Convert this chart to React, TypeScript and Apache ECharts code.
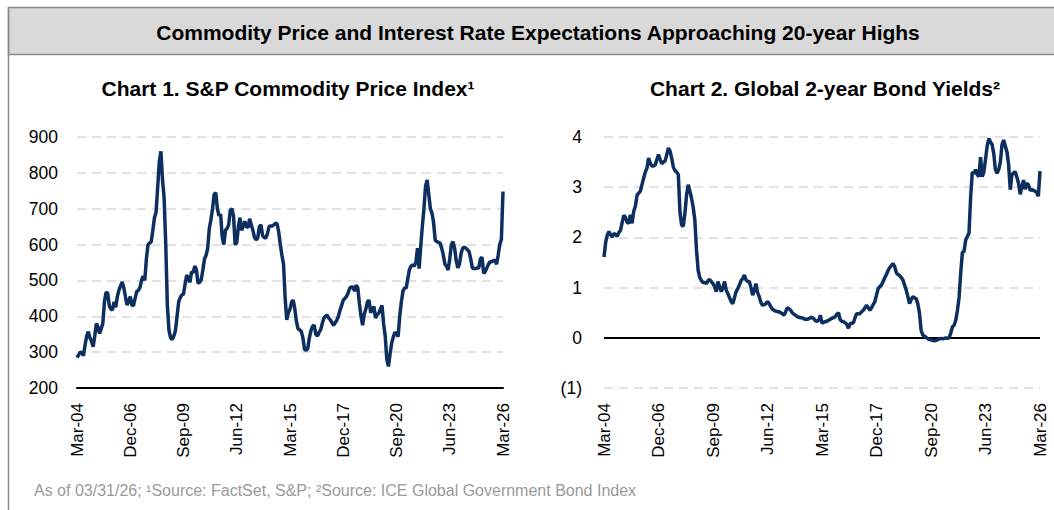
import React, { useEffect, useRef } from "react";
import * as echarts from "echarts";

// Monthly observations, Mar-04 .. Mar-26
const commodity2004 = [285, 292, 300, 298, 290, 320, 345, 357, 340, 330];
const commodity2005 = [315, 345, 380, 370, 352, 365, 380, 440, 467, 465, 430, 420];
const commodity2006 = [418, 440, 425, 455, 473, 485, 496, 480, 455, 432, 440, 455];
const commodity2007 = [432, 430, 450, 469, 472, 480, 500, 512, 500, 560, 600, 604];
const commodity2008 = [608, 640, 675, 690, 760, 830, 860, 780, 730, 600, 430, 361];
const commodity2009 = [340, 335, 345, 360, 400, 440, 452, 460, 462, 490, 515, 505];
const commodity2010 = [495, 524, 522, 540, 530, 492, 495, 502, 529, 560, 570, 590];
const commodity2011 = [645, 670, 700, 740, 745, 700, 680, 685, 620, 600, 640, 645];
const commodity2012 = [655, 695, 700, 680, 600, 605, 650, 675, 640, 650, 665, 650];
const commodity2013 = [648, 672, 655, 640, 620, 613, 618, 650, 655, 625, 620, 618];
const commodity2014 = [630, 650, 652, 652, 655, 660, 658, 635, 600, 570, 545, 450];
const commodity2015 = [390, 410, 420, 440, 445, 420, 385, 365, 362, 358, 340, 308];
const commodity2016 = [305, 310, 340, 360, 372, 375, 350, 345, 355, 362, 380, 395];
const commodity2017 = [400, 403, 395, 390, 382, 375, 382, 389, 400, 417, 430, 445];
const commodity2018 = [450, 455, 465, 478, 482, 482, 470, 487, 480, 436, 400, 375];
const commodity2019 = [405, 420, 440, 445, 410, 420, 427, 395, 405, 408, 420, 430];
const commodity2020 = [380, 345, 280, 260, 295, 325, 342, 355, 352, 343, 400, 440];
const commodity2021 = [470, 480, 478, 505, 530, 540, 543, 540, 550, 590, 533, 594];
const commodity2022 = [650, 700, 762, 780, 740, 700, 688, 660, 612, 608, 606, 604];
const commodity2023 = [590, 571, 545, 540, 529, 560, 600, 608, 590, 555, 535, 545];
const commodity2024 = [575, 590, 592, 590, 585, 580, 560, 535, 533, 533, 535, 535];
const commodity2025 = [560, 565, 520, 525, 535, 545, 552, 552, 555, 557, 545, 570];
const commodity2026 = [600, 615, 748];

const yields2004 = [1.61, 1.9, 2.05, 2.12, 2.05, 2.01, 2.08, 2.06, 2.02, 2.1];
const yields2005 = [2.14, 2.3, 2.44, 2.4, 2.3, 2.28, 2.45, 2.28, 2.52, 2.62, 2.84, 2.88];
const yields2006 = [2.92, 3.05, 3.18, 3.3, 3.38, 3.58, 3.48, 3.42, 3.42, 3.44, 3.55, 3.65];
const yields2007 = [3.55, 3.47, 3.5, 3.52, 3.65, 3.78, 3.72, 3.58, 3.4, 3.33, 3.3, 3.25];
const yields2008 = [2.5, 2.25, 2.22, 2.48, 2.85, 3.05, 2.92, 2.78, 2.6, 2.35, 1.75, 1.35];
const yields2009 = [1.2, 1.14, 1.1, 1.1, 1.08, 1.14, 1.16, 1.12, 1.08, 1.02, 0.92, 1.12];
const yields2010 = [1.02, 0.92, 1.0, 1.12, 0.95, 0.88, 0.8, 0.72, 0.68, 0.8, 0.92, 0.98];
const yields2011 = [1.05, 1.14, 1.18, 1.25, 1.15, 1.12, 1.12, 1.0, 0.85, 0.95, 1.08, 0.9];
const yields2012 = [0.82, 0.7, 0.65, 0.66, 0.68, 0.72, 0.68, 0.62, 0.57, 0.55, 0.53, 0.52];
const yields2013 = [0.52, 0.5, 0.48, 0.45, 0.52, 0.6, 0.58, 0.55, 0.5, 0.47, 0.45, 0.42];
const yields2014 = [0.41, 0.4, 0.4, 0.38, 0.37, 0.37, 0.38, 0.4, 0.41, 0.38, 0.34, 0.33];
const yields2015 = [0.35, 0.45, 0.29, 0.31, 0.32, 0.33, 0.35, 0.37, 0.39, 0.4, 0.42, 0.47];
const yields2016 = [0.5, 0.36, 0.33, 0.32, 0.3, 0.27, 0.19, 0.28, 0.29, 0.3, 0.4, 0.48];
const yields2017 = [0.48, 0.48, 0.52, 0.55, 0.6, 0.65, 0.6, 0.55, 0.6, 0.66, 0.72, 0.85];
const yields2018 = [0.98, 1.02, 1.05, 1.12, 1.2, 1.26, 1.34, 1.4, 1.44, 1.48, 1.42, 1.3];
const yields2019 = [1.26, 1.24, 1.2, 1.15, 1.05, 0.95, 0.82, 0.68, 0.76, 0.82, 0.8, 0.78];
const yields2020 = [0.68, 0.5, 0.15, 0.06, 0.03, 0.01, -0.02, -0.03, -0.04, -0.05, -0.06, -0.05];
const yields2021 = [-0.04, -0.02, -0.01, -0.02, -0.01, 0.0, -0.01, 0.0, 0.1, 0.22, 0.25, 0.35];
const yields2022 = [0.55, 0.8, 1.3, 1.7, 1.72, 1.95, 2.02, 2.08, 2.8, 3.3, 3.27, 3.35];
const yields2023 = [3.25, 3.21, 3.6, 3.21, 3.3, 3.55, 3.82, 3.97, 3.9, 3.85, 3.67, 3.35];
const yields2024 = [3.28, 3.35, 3.5, 3.85, 3.94, 3.82, 3.7, 3.45, 2.95, 3.25, 3.28, 3.31];
const yields2025 = [3.2, 3.08, 2.86, 3.0, 3.14, 2.96, 3.08, 3.05, 2.94, 2.95, 2.94, 2.92];
const yields2026 = [2.9, 2.82, 3.32];

const commodity = [
  ...commodity2004, ...commodity2005, ...commodity2006, ...commodity2007, ...commodity2008,
  ...commodity2009, ...commodity2010, ...commodity2011, ...commodity2012, ...commodity2013,
  ...commodity2014, ...commodity2015, ...commodity2016, ...commodity2017, ...commodity2018,
  ...commodity2019, ...commodity2020, ...commodity2021, ...commodity2022, ...commodity2023,
  ...commodity2024, ...commodity2025, ...commodity2026,
];
const yields = [
  ...yields2004, ...yields2005, ...yields2006, ...yields2007, ...yields2008,
  ...yields2009, ...yields2010, ...yields2011, ...yields2012, ...yields2013,
  ...yields2014, ...yields2015, ...yields2016, ...yields2017, ...yields2018,
  ...yields2019, ...yields2020, ...yields2021, ...yields2022, ...yields2023,
  ...yields2024, ...yields2025, ...yields2026,
];

const monthNames = ["Jan", "Feb", "Mar", "Apr", "May", "Jun", "Jul", "Aug", "Sep", "Oct", "Nov", "Dec"];
const startYear = 2004;
const startMonth = 2; // March
const months: string[] = [];
for (let i = 0; i < commodity.length; i++) {
  const m = (startMonth + i) % 12;
  const y = startYear + Math.floor((startMonth + i) / 12);
  months.push(`${monthNames[m]}-${String(y % 100).padStart(2, "0")}`);
}

const headerTitle = "Commodity Price and Interest Rate Expectations Approaching 20-year Highs";
const chart1Title = "Chart 1. S&P Commodity Price Index\u00B9";
const chart2Title = "Chart 2. Global 2-year Bond Yields\u00B2";
const footnote = "As of 03/31/26; \u00B9Source: FactSet, S&P; \u00B2Source: ICE Global Government Bond Index";

const FONT = "Arial, 'Liberation Sans', sans-serif";
const NAVY = "#0d2f5f";

export default function App() {
  const ref = useRef<HTMLDivElement>(null);
  useEffect(() => {
    if (!ref.current) return;
    const chart = echarts.init(ref.current, null, { renderer: "svg" });
    const xAxisBase = {
      type: "category" as const,
      data: months,
      boundaryGap: false,
      axisTick: { show: false },
      axisLabel: {
        interval: 32,
        rotate: 90,
        fontSize: 17,
        color: "#000",
        fontFamily: FONT,
        margin: 15,
      },
    };
    const splitLine = {
      show: true,
      lineStyle: { color: "#d9d9d9", type: [9, 6] as any, width: 1.5 },
    };
    chart.setOption({
      animation: false,
      backgroundColor: "#fff",
      textStyle: { fontFamily: FONT },
      grid: [
        { left: 77, right: 551, top: 137, bottom: 122 },
        { left: 604, right: 14, top: 137, bottom: 122 },
      ],
      xAxis: [
        {
          ...xAxisBase,
          gridIndex: 0,
          axisLine: { show: true, onZero: false, lineStyle: { color: "#000", width: 2 } },
        },
        {
          ...xAxisBase,
          gridIndex: 1,
          axisLine: { show: false, onZero: false },
        },
      ],
      yAxis: [
        {
          type: "value",
          gridIndex: 0,
          min: 200,
          max: 900,
          interval: 100,
          axisLine: { show: false },
          axisTick: { show: false },
          splitLine,
          axisLabel: { fontSize: 17.5, color: "#000", fontFamily: FONT, margin: 19 },
        },
        {
          type: "value",
          gridIndex: 1,
          min: -1,
          max: 4,
          interval: 1,
          axisLine: { show: false },
          axisTick: { show: false },
          splitLine,
          axisLabel: {
            fontSize: 17.5,
            color: "#000",
            fontFamily: FONT,
            margin: 22,
            formatter: (v: number) => (v < 0 ? `(${-v})` : `${v}`),
          },
        },
      ],
      series: [
        {
          type: "line",
          xAxisIndex: 0,
          yAxisIndex: 0,
          data: commodity,
          showSymbol: false,
          lineStyle: { color: NAVY, width: 3.5 },
          itemStyle: { color: NAVY },
        },
        {
          type: "line",
          xAxisIndex: 1,
          yAxisIndex: 1,
          data: yields,
          showSymbol: false,
          lineStyle: { color: NAVY, width: 3.5 },
          itemStyle: { color: NAVY },
          markLine: {
            silent: true,
            symbol: "none",
            label: { show: false },
            lineStyle: { color: "#000", width: 2, type: "solid" },
            data: [{ yAxis: 0 }],
            z: 1,
          },
        },
      ],
      graphic: [
        {
          type: "rect",
          shape: { x: 8.5, y: 7.5, width: 1060, height: 47 },
          style: { fill: "#d9d9d9", stroke: "#8a8a8a", lineWidth: 1.5 },
          z: 0,
        },
        {
          type: "line",
          shape: { x1: 8.5, y1: 7.5, x2: 8.5, y2: 520 },
          style: { stroke: "#8a8a8a", lineWidth: 1.5 },
        },
        {
          type: "text",
          x: 538,
          y: 32,
          style: {
            text: headerTitle,
            fill: "#000",
            font: `bold 21px ${FONT}`,
            textAlign: "center",
            textVerticalAlign: "middle",
          },
        },
        {
          type: "text",
          x: 288,
          y: 88,
          style: {
            text: chart1Title,
            fill: "#000",
            font: `bold 21px ${FONT}`,
            textAlign: "center",
            textVerticalAlign: "middle",
          },
        },
        {
          type: "text",
          x: 825,
          y: 88,
          style: {
            text: chart2Title,
            fill: "#000",
            font: `bold 21px ${FONT}`,
            textAlign: "center",
            textVerticalAlign: "middle",
          },
        },
        {
          type: "text",
          x: 34,
          y: 490,
          style: {
            text: footnote,
            fill: "#9a9a9a",
            font: `16px ${FONT}`,
            textAlign: "left",
            textVerticalAlign: "middle",
          },
        },
      ],
    });
    return () => chart.dispose();
  }, []);
  return (
    <div
      ref={ref}
      style={{ position: "absolute", left: 0, top: 0, width: 1054, height: 510 }}
    />
  );
}
